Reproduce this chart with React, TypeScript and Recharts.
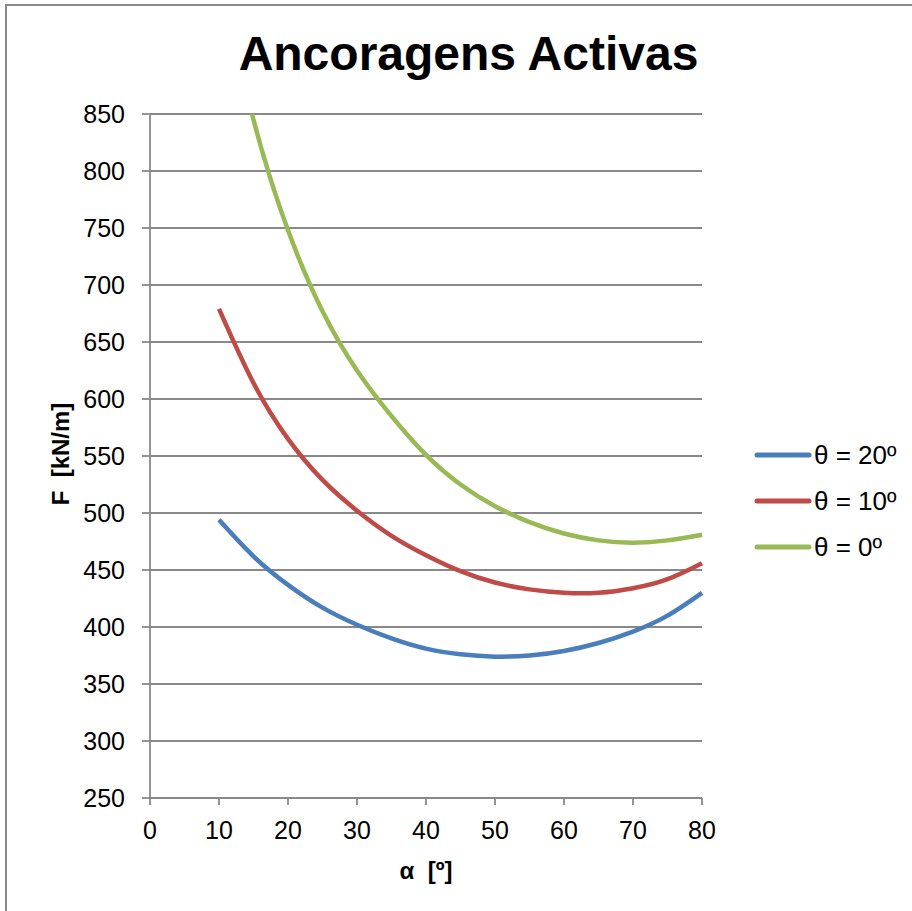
import { LineChart, Line, XAxis, YAxis, CartesianGrid, Legend } from 'recharts'

const alpha = [10, 15, 20, 25, 30, 35, 40, 45, 50, 55, 60, 65, 70, 75, 80]
const theta20 = [494, 462, 437, 417, 402, 390, 381, 376, 374, 375, 379, 386, 396, 410, 430]
const theta10 = [679, 614, 565, 529, 502, 480, 463, 449, 439, 433, 430, 430, 434, 442, 456]
const theta0 = [975, 845, 748, 677, 625, 585, 551, 525, 506, 492, 482, 476, 474, 476, 481]

const xTicks = [0, 10, 20, 30, 40, 50, 60, 70, 80]
const yTicks = [250, 300, 350, 400, 450, 500, 550, 600, 650, 700, 750, 800, 850]

const series = [
  { key: 't20', name: 'θ = 20º', color: '#4a7ebb' },
  { key: 't10', name: 'θ = 10º', color: '#be4b48' },
  { key: 't0', name: 'θ = 0º', color: '#98b954' },
]

const data = alpha.map((a, i) => ({ a, t20: theta20[i], t10: theta10[i], t0: theta0[i] }))

const FONT = '"Liberation Sans", Arial, sans-serif'
const GRAY = '#898989'

function LegendBox() {
  return (
    <div style={{ fontFamily: FONT, fontSize: 26, color: '#000' }}>
      {series.map(s => (
        <div key={s.key} style={{ display: 'flex', alignItems: 'center', height: 46 }}>
          <svg width={58} height={10}>
            <line x1={3} y1={5} x2={55} y2={5} stroke={s.color} strokeWidth={5} strokeLinecap="round" />
          </svg>
          <span style={{ marginLeft: 2, whiteSpace: 'pre' }}>{s.name}</span>
        </div>
      ))}
    </div>
  )
}

export default function App() {
  return (
    <div style={{ position: 'absolute', left: 0, top: 0, width: 912, height: 911, overflow: 'hidden', background: '#fff' }}>
      <div style={{ position: 'absolute', left: 5, top: 4, width: 1000, height: 1000, border: `2px solid ${GRAY}` }} />
      <div
        style={{
          position: 'absolute', left: 0, width: 937, top: 30, textAlign: 'center',
          fontFamily: FONT, fontWeight: 'bold', fontSize: 48, lineHeight: '48px', color: '#000',
        }}
      >
        Ancoragens Activas
      </div>
      <div
        style={{
          position: 'absolute', left: 426, top: 871, transform: 'translate(-50%, -50%)',
          fontFamily: FONT, fontWeight: 'bold', fontSize: 24, whiteSpace: 'pre', color: '#000',
        }}
      >
        α  [º]
      </div>
      <div
        style={{
          position: 'absolute', left: 61, top: 454, transform: 'translate(-50%, -50%) rotate(-90deg)',
          fontFamily: FONT, fontWeight: 'bold', fontSize: 24, whiteSpace: 'pre', color: '#000',
        }}
      >
        F  [kN/m]
      </div>
      <div style={{ position: 'absolute', left: 0, top: 0 }}>
        <LineChart width={912} height={911} data={data} margin={{ top: 114, right: 210, bottom: 53, left: 90 }}>
          <CartesianGrid vertical={false} stroke={GRAY} strokeWidth={1.8} />
          <XAxis
            dataKey="a"
            type="number"
            domain={[0, 80]}
            ticks={xTicks}
            height={60}
            tickSize={7}
            tickMargin={16}
            stroke={GRAY}
            strokeWidth={1.8}
            tick={{ fill: '#000', fontSize: 25, fontFamily: FONT }}
          />
          <YAxis
            type="number"
            domain={[250, 850]}
            ticks={yTicks}
            allowDataOverflow
            width={60}
            tickSize={8}
            tickMargin={17}
            stroke={GRAY}
            strokeWidth={1.8}
            tick={{ fill: '#000', fontSize: 25, fontFamily: FONT }}
          />
          <Legend
            layout="vertical"
            align="center"
            verticalAlign="middle"
            wrapperStyle={{ left: 754, top: 432, width: 158 }}
            content={() => <LegendBox />}
          />
          {series.map(s => (
            <Line
              key={s.key}
              dataKey={s.key}
              name={s.name}
              type="natural"
              stroke={s.color}
              strokeWidth={4.5}
              dot={false}
              activeDot={false}
              isAnimationActive={false}
            />
          ))}
        </LineChart>
      </div>
    </div>
  )
}
